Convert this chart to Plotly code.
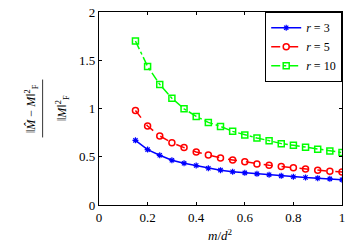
import plotly.graph_objects as go

x_vals = [0.15, 0.2, 0.25, 0.3, 0.35, 0.4, 0.45, 0.5, 0.55, 0.6, 0.65, 0.7, 0.75, 0.8, 0.85, 0.9, 0.95, 1.0]
r3 = [0.67, 0.574, 0.515, 0.464, 0.433, 0.409, 0.381, 0.361, 0.344, 0.333, 0.323, 0.313, 0.302, 0.292, 0.285, 0.278, 0.271, 0.261]
r5 = [0.979, 0.818, 0.715, 0.646, 0.595, 0.55, 0.519, 0.488, 0.467, 0.447, 0.426, 0.412, 0.399, 0.385, 0.374, 0.361, 0.35, 0.343]
r10 = [1.70, 1.436, 1.25, 1.106, 0.997, 0.918, 0.856, 0.814, 0.763, 0.725, 0.694, 0.667, 0.636, 0.619, 0.598, 0.577, 0.56, 0.543]
names = ["<i>r</i> = 3", "<i>r</i> = 5", "<i>r</i> = 10"]
x_ticks = [0, 0.2, 0.4, 0.6, 0.8, 1]
y_ticks = [0, 0.5, 1, 1.5, 2]

FONT = "Liberation Serif"

fig = go.Figure()
fig.add_trace(go.Scatter(x=x_vals, y=r3, name=names[0], mode="lines+markers",
                         line=dict(color="#0000ff", width=1.5),
                         marker=dict(symbol="asterisk-open", size=5, color="#0000ff", line=dict(width=1.2, color="#0000ff"))))
fig.add_trace(go.Scatter(x=x_vals, y=r5, name=names[1], mode="lines+markers",
                         line=dict(color="#ff0000", width=1.5, dash="dash"),
                         marker=dict(symbol="circle-open", size=6, color="#ff0000", line=dict(width=1.5, color="#ff0000"))))
fig.add_trace(go.Scatter(x=x_vals, y=r10, name=names[2], mode="lines+markers",
                         line=dict(color="#00ff00", width=1.5, dash="dashdot"),
                         marker=dict(symbol="square-open", size=6, color="#00ff00", line=dict(width=1.5, color="#00ff00"))))

axis_common = dict(showgrid=False, zeroline=False, showline=True, linecolor="black", linewidth=1.2,
                   mirror="ticks", ticks="inside", ticklen=3, tickcolor="black",
                   tickfont=dict(family=FONT, size=13, color="black"))
fig.update_xaxes(range=[0, 1], tickvals=x_ticks, ticktext=[str(v) for v in x_ticks], **axis_common)
fig.update_yaxes(range=[0, 2], tickvals=y_ticks, ticktext=[str(v) for v in y_ticks], **axis_common)

fig.update_layout(
    width=350, height=250,
    margin=dict(l=99, r=5, t=11, b=45),
    paper_bgcolor="white", plot_bgcolor="white",
    font=dict(family=FONT, size=13, color="black"),
    legend=dict(x=1, y=1, xanchor="right", yanchor="top", bordercolor="black", borderwidth=1.2,
                bgcolor="white", font=dict(family=FONT, size=12), itemwidth=30,
                tracegroupgap=0),
    showlegend=True,
)

fig.add_annotation(text="<i>m</i>/<i>d</i><sup>2</sup>", xref="paper", yref="paper", x=0.5, y=0,
                   yshift=-20, yanchor="top", showarrow=False, font=dict(family=FONT, size=13))
fig.add_annotation(text="‖<i>M̂</i> − <i>M</i>‖<sup>2</sup><sub>F</sub>", xref="paper", yref="paper",
                   x=0, y=0.5, xshift=-78, textangle=-90, showarrow=False, font=dict(family=FONT, size=12))
fig.add_annotation(text="‖<i>M</i>‖<sup>2</sup><sub>F</sub>", xref="paper", yref="paper",
                   x=0, y=0.5, xshift=-47, textangle=-90, showarrow=False, font=dict(family=FONT, size=12))
fig.add_shape(type="line", xref="paper", yref="paper", x0=-0.232, x1=-0.232, y0=0.35, y1=0.65,
              line=dict(color="black", width=0.8))

fig.write_html("out.html", config={"displayModeBar": False},
               post_script="document.body.style.margin='0';document.body.style.overflow='hidden';")
